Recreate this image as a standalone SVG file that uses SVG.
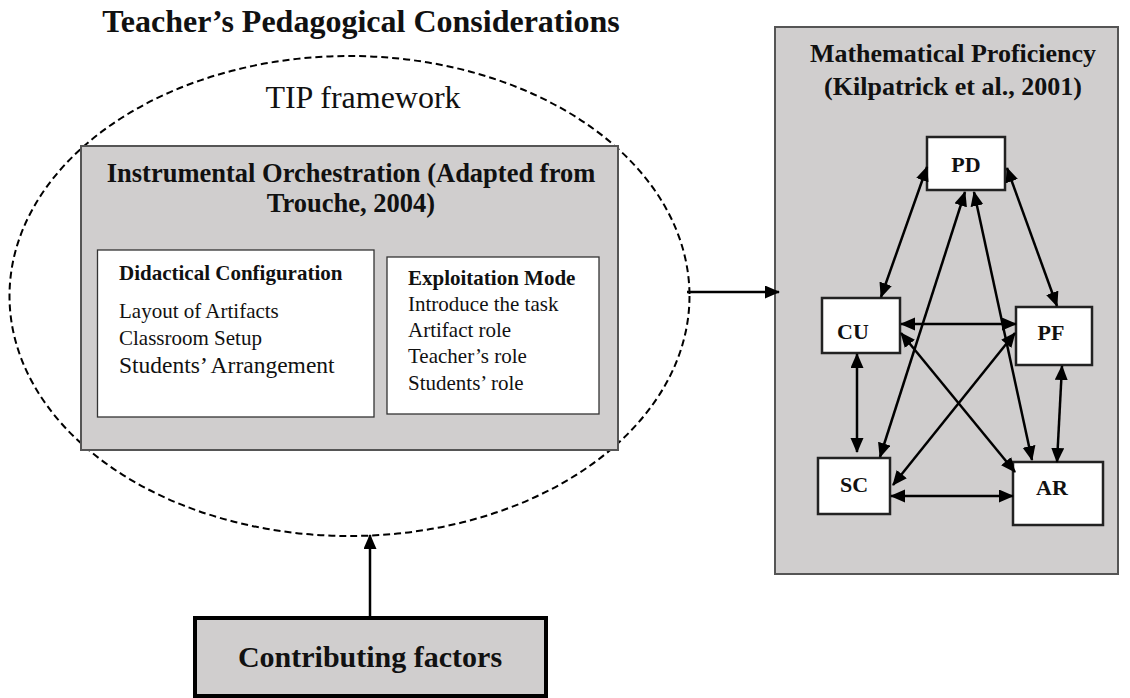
<svg xmlns="http://www.w3.org/2000/svg" width="1130" height="698" viewBox="0 0 1130 698">
  <style>
    text { font-family: "Liberation Serif", "Times New Roman", serif; fill: #111; }
    .b { font-weight: bold; }
    .gray { fill: #d0cece; stroke: #555; stroke-width: 2; }
    .white { fill: #fff; stroke: #333; stroke-width: 1.3; }
    .node { fill: #fff; stroke: #222; stroke-width: 2.5; }
    .conn { stroke: #000; stroke-width: 2.5; fill: none; }
  </style>
  <defs>
    <marker id="ah" markerUnits="userSpaceOnUse" markerWidth="16" markerHeight="14" refX="14" refY="6.5" orient="auto-start-reverse" viewBox="0 0 16 14">
      <path d="M0,0 L15,6.5 L0,13 z" fill="#000"/>
    </marker>
  </defs>

  <rect width="1130" height="698" fill="#fff"/>

  <g id="title">
    <text class="b" x="361" y="32" font-size="32" text-anchor="middle">Teacher’s Pedagogical Considerations</text>
  </g>

  <g id="tip-framework">
    <ellipse cx="349.5" cy="296" rx="340" ry="240" fill="none" stroke="#000" stroke-width="2" stroke-dasharray="7,4"/>
    <text x="363" y="108" font-size="32" text-anchor="middle">TIP framework</text>
  </g>

  <g id="instrumental-orchestration">
    <rect class="gray" x="81" y="146" width="537" height="304"/>
    <text class="b" x="351" y="182" font-size="26.5" text-anchor="middle">Instrumental Orchestration (Adapted from</text>
    <text class="b" x="351" y="212" font-size="26.5" text-anchor="middle">Trouche, 2004)</text>
  </g>

  <g id="didactical-configuration">
    <rect class="white" x="97.5" y="250" width="276.5" height="167"/>
    <text class="b" x="119" y="280" font-size="21">Didactical Configuration</text>
    <text x="119" y="318" font-size="21">Layout of Artifacts</text>
    <text x="119" y="345" font-size="21">Classroom Setup</text>
    <text x="119" y="373" font-size="23.5">Students’ Arrangement</text>
  </g>

  <g id="exploitation-mode">
    <rect class="white" x="387" y="257" width="212" height="157"/>
    <text class="b" x="408" y="285" font-size="21">Exploitation Mode</text>
    <text x="408" y="311" font-size="21">Introduce the task</text>
    <text x="408" y="337" font-size="21">Artifact role</text>
    <text x="408" y="363" font-size="21">Teacher’s role</text>
    <text x="408" y="390" font-size="21">Students’ role</text>
  </g>

  <g id="mathematical-proficiency">
    <rect class="gray" x="775" y="27" width="343" height="547" stroke="#333" stroke-width="1.5"/>
    <text class="b" x="953" y="62" font-size="26" text-anchor="middle">Mathematical Proficiency</text>
    <text class="b" x="953" y="95" font-size="26" text-anchor="middle">(Kilpatrick et al., 2001)</text>
  </g>

  <g id="PD">
    <rect class="node" x="927" y="137" width="78" height="53"/>
    <text class="b" x="966" y="172" font-size="22" text-anchor="middle">PD</text>
  </g>
  <g id="CU">
    <rect class="node" x="822" y="298" width="78" height="55"/>
    <text class="b" x="853" y="339" font-size="22" text-anchor="middle">CU</text>
  </g>
  <g id="PF">
    <rect class="node" x="1016" y="307" width="76" height="58"/>
    <text class="b" x="1051" y="340" font-size="22" text-anchor="middle">PF</text>
  </g>
  <g id="SC">
    <rect class="node" x="818" y="458" width="72" height="56"/>
    <text class="b" x="854" y="492" font-size="22" text-anchor="middle">SC</text>
  </g>
  <g id="AR">
    <rect class="node" x="1013" y="462" width="90" height="63"/>
    <text class="b" x="1052" y="495" font-size="22" text-anchor="middle">AR</text>
  </g>

  <g id="contributing-factors">
    <rect x="195" y="618" width="351" height="78" fill="#d0cece" stroke="#000" stroke-width="4"/>
    <text class="b" x="370" y="667" font-size="30" text-anchor="middle">Contributing factors</text>
  </g>

  <g id="connectors">
    <line class="conn" x1="687" y1="292" x2="779" y2="292" stroke-width="2.8" marker-end="url(#ah)"/>
    <line class="conn" x1="370" y1="616" x2="370" y2="535" stroke-width="2.8" marker-end="url(#ah)"/>
    <line class="conn" x1="927" y1="167" x2="881" y2="297" marker-start="url(#ah)" marker-end="url(#ah)"/>
    <line class="conn" x1="1007" y1="168" x2="1057" y2="306" marker-start="url(#ah)" marker-end="url(#ah)"/>
    <line class="conn" x1="965" y1="192" x2="880" y2="457" marker-start="url(#ah)" marker-end="url(#ah)"/>
    <line class="conn" x1="974" y1="192" x2="1032" y2="460" marker-start="url(#ah)" marker-end="url(#ah)"/>
    <line class="conn" x1="901" y1="324" x2="1016" y2="324" marker-start="url(#ah)" marker-end="url(#ah)"/>
    <line class="conn" x1="857" y1="354" x2="857" y2="452" marker-start="url(#ah)" marker-end="url(#ah)"/>
    <line class="conn" x1="901" y1="333" x2="1015" y2="472" marker-start="url(#ah)" marker-end="url(#ah)"/>
    <line class="conn" x1="1015" y1="333" x2="893" y2="485" marker-start="url(#ah)" marker-end="url(#ah)"/>
    <line class="conn" x1="1062" y1="366" x2="1057" y2="462" marker-start="url(#ah)" marker-end="url(#ah)"/>
    <line class="conn" x1="891" y1="496" x2="1013" y2="496" marker-start="url(#ah)" marker-end="url(#ah)"/>
  </g>
</svg>
